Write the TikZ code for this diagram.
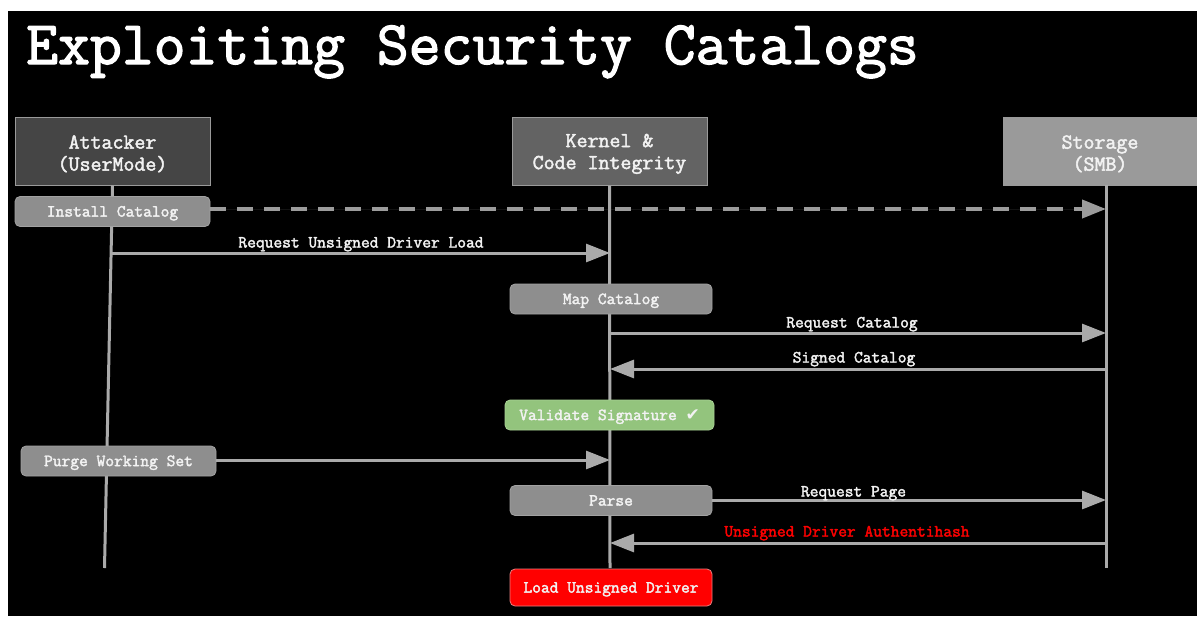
\documentclass[tikz,border=0pt]{standalone}
\usepackage{fontspec}
\newfontfamily\symfnt{DejaVu Sans}
\newfontfamily\cmono[FakeBold=2.2]{Latin Modern Mono}
\usetikzlibrary{arrows.meta}
\definecolor{linegray}{HTML}{AAAAAA}
\definecolor{dashgray}{HTML}{9C9C9C}
\definecolor{hdA}{HTML}{454545}
\definecolor{hdK}{HTML}{636363}
\definecolor{hdS}{HTML}{9A9A9A}
\definecolor{hdborder}{HTML}{9A9A9A}
\definecolor{actfill}{HTML}{8E8E8E}
\definecolor{actborder}{HTML}{A2A2A2}
\definecolor{okfill}{HTML}{93C47D}
\definecolor{okborder}{HTML}{A9D295}
\definecolor{badfill}{HTML}{FF0000}
\definecolor{badborder}{HTML}{E88080}
\definecolor{txtlight}{HTML}{F2F2F2}
\definecolor{redtxt}{HTML}{FF0000}
\newcommand\mytitlefont{\cmono\fontsize{61.9}{60}\selectfont}
\newcommand\myheadfont{\cmono\fontsize{21.3}{22}\selectfont}
\newcommand\myboxfont{\cmono\fontsize{17}{18}\selectfont}
\newcommand\hstrut{\rule{0pt}{19pt}}
\tikzset{
  head/.style={rectangle, draw=hdborder, line width=1pt, minimum width=195pt,
    minimum height=68pt, inner sep=0pt, align=center, font=\myheadfont, text=txtlight},
  act/.style={rectangle, rounded corners=5pt, fill=actfill, draw=actborder, line width=0.8pt,
    minimum height=30pt, inner sep=0pt, font=\myboxfont, text=txtlight,
    text height=12pt, text depth=1.8pt},
  life/.style={draw=linegray, line width=3pt},
  msg/.style={draw=linegray, line width=3pt, -{Triangle[length=24pt,width=18pt]}, fill=linegray},
  dmsg/.style={draw=dashgray, line width=4pt, dash pattern=on 16pt off 11pt,
    -{Triangle[length=24pt,width=18pt]}, fill=dashgray},
  lbl/.style={font=\myboxfont, text=txtlight, inner sep=0pt, anchor=base}
}
\begin{document}
\begin{tikzpicture}[x=1pt,y=-1pt]
\useasboundingbox (0,0) rectangle (1197,616);
\fill[white] (0,0) rectangle (1197,616);
\fill[black] (8,11) rectangle (1197,616);

% title
\node[font=\mytitlefont, text=white, anchor=base west, inner sep=0pt] (title) at (26,64) {Exploiting Security Catalogs};

% headers
\node[head, fill=hdA] (attacker) at (112.5,151) {\hstrut Attacker\\(UserMode)};
\node[head, fill=hdK] (kernel) at (609.5,151) {\hstrut Kernel \&\\Code Integrity};
\node[head, fill=hdS, minimum width=194pt] (storage) at (1100,151) {\hstrut Storage\\(SMB)};

% lifeline coordinates
\coordinate (aB) at (104.5,568);
\coordinate (kB) at (610,568);
\coordinate (sT) at (1106,185);
\coordinate (sB) at (1106,568);

\draw[life] (attacker.south) -- (aB);
\draw[life] (kernel.south) -- (kB);
\draw[life] (sT) -- (sB);

% message end points
\coordinate (m0e) at (1106,209);
\coordinate (m1s) at (110.7,253);
\coordinate (m1e) at (610,253);
\coordinate (m2s) at (610,333);
\coordinate (m2e) at (1106,333);
\coordinate (m3s) at (1106,369);
\coordinate (m3e) at (610,369);
\coordinate (m4e) at (610,460);
\coordinate (m5e) at (1106,500);
\coordinate (m6s) at (1106,543);
\coordinate (m6e) at (610,543);

% activation boxes
\node[act, minimum width=195pt] (install) at (112.5,211.5) {Install Catalog};
\node[act, minimum width=202pt] (map) at (611,299) {Map Catalog};
\node[act, minimum width=209pt, fill=okfill, draw=okborder] (validate) at (609.5,415) {Validate Signature {\symfnt\bfseries\fontsize{17}{18}\selectfont ✔}};
\node[act, minimum width=195pt] (purge) at (118.5,461) {Purge Working Set};
\node[act, minimum width=202pt] (parse) at (611,500.5) {Parse};
\node[act, minimum width=202pt, minimum height=37pt, fill=badfill, draw=badborder] (load) at (611,587.5) {Load Unsigned Driver};

% messages
\draw[dmsg] (install.east |- m0e) -- (m0e);
\draw[msg] (m1s) -- (m1e);
\draw[msg] (m2s) -- (m2e);
\draw[msg] (m3s) -- (m3e);
\draw[msg] (purge.east |- m4e) -- (m4e);
\draw[msg] (parse.east |- m5e) -- (m5e);
\draw[msg] (m6s) -- (m6e);

% labels
\node[lbl] (l1) at (361,247.5) {Request Unsigned Driver Load};
\node[lbl] (l2) at (852,327.5) {Request Catalog};
\node[lbl] (l3) at (854,362.5) {Signed Catalog};
\node[lbl] (l5) at (853.5,496.5) {Request Page};
\node[lbl, text=redtxt] (l6) at (847,536.5) {Unsigned Driver Authentihash};
\end{tikzpicture}
\end{document}
